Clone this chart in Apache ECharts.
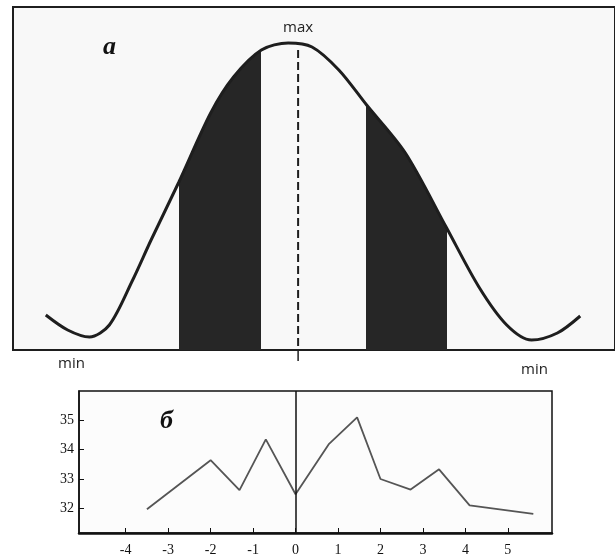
<!DOCTYPE html>
<html>
<head>
<meta charset="utf-8">
<script src="https://cdn.jsdelivr.net/npm/echarts@6/dist/echarts.min.js"></script>
<style>
html,body{margin:0;padding:0;background:#ffffff;}
#chart{width:615px;height:557px;}
</style>
</head>
<body>
<div id="chart"></div>
<script>
// ---- Panel а: idealised distribution curve (x: offset from max, y: height) ----
const curveX = [-25.4, -23.2, -21.0, -19.0, -16.7, -14.8, -12.0, -8.8, -6.5, -3.7, -1.0, 1.4, 4.1, 6.9, 10.8, 14.9, 18.2, 21.0, 23.5, 26.1, 28.4];
const curveY = [3.5, 2.0, 1.3, 2.5, 6.9, 11.0, 16.8, 23.7, 27.3, 30.0, 30.7, 30.3, 28.0, 24.5, 19.7, 12.3, 6.3, 2.5, 1.0, 1.7, 3.4];
const shadedBands = [[-12.0, -3.7], [6.8, 15.0]];
const maxLineX = 0;
const maxLineTop = 30.0;
const maxLabel = 'max';
const minLabel = 'min';

// ---- Panel б: measured values ----
const seriesX = [-3.5, -2.0, -1.32, -0.70, 0, 0.79, 1.45, 2.0, 2.71, 3.38, 4.1, 5.6];
const seriesY = [31.97, 33.64, 32.62, 34.35, 32.48, 34.2, 35.1, 33.0, 32.64, 33.33, 32.1, 31.81];
const xTicks = [-4, -3, -2, -1, 0, 1, 2, 3, 4, 5];
const yTicks = [32, 33, 34, 35];

const curveData = curveX.map((x, i) => [x, curveY[i]]);
const lineData = seriesX.map((x, i) => [x, seriesY[i]]);

const chart = echarts.init(document.getElementById('chart'), null, {renderer: 'canvas'});
const serif = '"Liberation Serif", "DejaVu Serif", serif';
const sans = '"Open Sans", "Noto Sans", sans-serif';

chart.setOption({
  animation: false,
  backgroundColor: '#ffffff',
  grid: [
    {left: 13, top: 7, width: 606, height: 343, show: true, backgroundColor: '#f8f8f8', borderColor: '#1e1e1e', borderWidth: 2},
    {left: 79, top: 391, width: 473, height: 144, show: true, backgroundColor: '#fcfcfc', borderColor: '#111', borderWidth: 1.5}
  ],
  xAxis: [
    {gridIndex: 0, type: 'value', min: -28.7, max: 31.9, show: false},
    {gridIndex: 1, type: 'value', min: -5.1, max: 6.04, splitLine: {show: false},
      axisLine: {show: true, onZero: false, lineStyle: {color: '#111', width: 2.5}},
      axisTick: {show: true, inside: true, length: 5, customValues: xTicks, lineStyle: {color: '#111', width: 1}},
      axisLabel: {customValues: xTicks, margin: 10, fontFamily: serif, fontSize: 14, color: '#111'}}
  ],
  yAxis: [
    {gridIndex: 0, type: 'value', min: 0, max: 34.3, show: false},
    {gridIndex: 1, type: 'value', min: 31.16, max: 36.0, splitLine: {show: false},
      axisLine: {show: true, onZero: false, lineStyle: {color: '#111', width: 1.5}},
      axisTick: {show: true, inside: true, length: 5, customValues: yTicks, lineStyle: {color: '#111', width: 1}},
      axisLabel: {customValues: yTicks, margin: 5, fontFamily: serif, fontSize: 14, color: '#111'}}
  ],
  visualMap: [{
    type: 'piecewise', show: false, seriesIndex: 0, dimension: 0,
    pieces: shadedBands.map(b => ({gte: b[0], lte: b[1], color: '#262626'})),
    outOfRange: {color: 'rgba(0,0,0,0)'}
  }],
  series: [
    {type: 'line', xAxisIndex: 0, yAxisIndex: 0, data: curveData, smooth: 0.3, symbol: 'none',
      lineStyle: {width: 0, opacity: 0}, areaStyle: {opacity: 1, origin: 'start'}, z: 2, silent: true},
    {type: 'line', xAxisIndex: 0, yAxisIndex: 0, data: curveData, smooth: 0.3, symbol: 'none',
      lineStyle: {color: '#1e1e1e', width: 3}, itemStyle: {color: '#1e1e1e'}, z: 3, silent: true},
    {type: 'line', xAxisIndex: 0, yAxisIndex: 0, data: [[maxLineX, maxLineTop], [maxLineX, 0]], symbol: 'none',
      lineStyle: {color: '#1e1e1e', width: 2, type: [8, 4]}, z: 3, silent: true},
    {type: 'line', xAxisIndex: 0, yAxisIndex: 0, clip: false, data: [[maxLineX, 0], [maxLineX, -1.1]], symbol: 'none',
      lineStyle: {color: '#1e1e1e', width: 1.5}, z: 3, silent: true},
    {type: 'line', xAxisIndex: 1, yAxisIndex: 1, data: lineData, symbol: 'none',
      lineStyle: {color: '#555', width: 1.8}, z: 3, silent: true,
      markLine: {silent: true, symbol: 'none', label: {show: false},
        lineStyle: {color: '#111', width: 1.5, type: 'solid'},
        data: [{xAxis: 0}]}}
  ],
  graphic: [
    {type: 'text', left: 103, top: 34, style: {text: 'а', font: 'italic bold 26px ' + serif, fill: '#111'}},
    {type: 'text', left: 283, top: 20, style: {text: maxLabel, font: '15px ' + sans, fill: '#222'}},
    {type: 'text', left: 58, top: 356, style: {text: minLabel, font: '15px ' + sans, fill: '#222'}},
    {type: 'text', left: 521, top: 362, style: {text: minLabel, font: '15px ' + sans, fill: '#222'}},
    {type: 'text', left: 160, top: 408, style: {text: 'б', font: 'italic bold 26px ' + serif, fill: '#111'}}
  ]
});
</script>
</body>
</html>
